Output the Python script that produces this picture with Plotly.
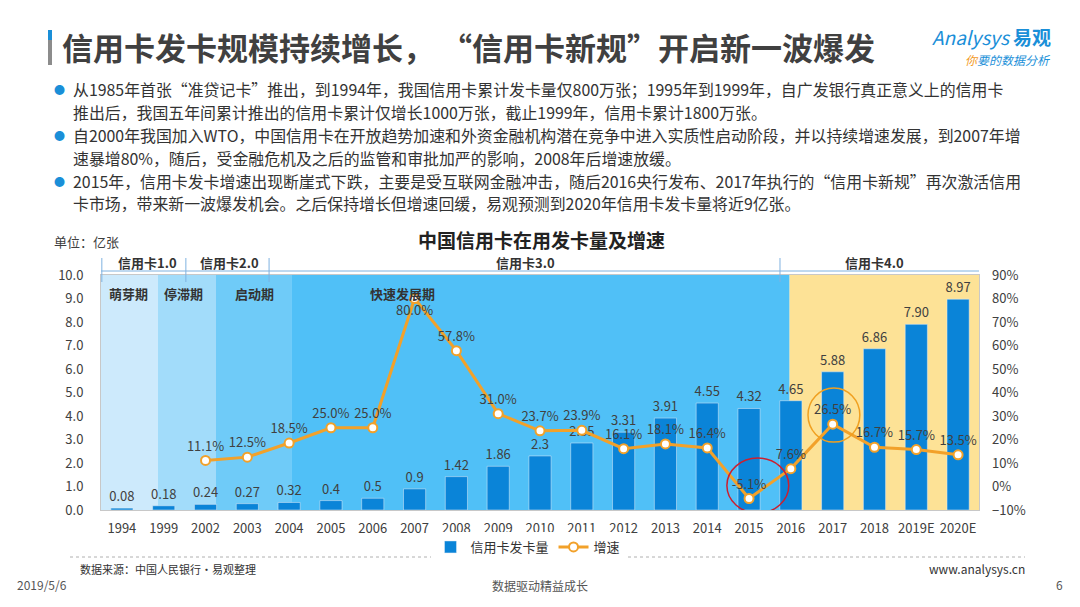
import plotly.graph_objects as go

# ---- data ----
years = ["1994", "1999", "2002", "2003", "2004", "2005", "2006", "2007", "2008", "2009",
         "2010", "2011", "2012", "2013", "2014", "2015", "2016", "2017", "2018", "2019E", "2020E"]
cards = [0.08, 0.18, 0.24, 0.27, 0.32, 0.4, 0.5, 0.9, 1.42, 1.86,
         2.3, 2.85, 3.31, 3.91, 4.55, 4.32, 4.65, 5.88, 6.86, 7.90, 8.97]
card_labels = ["0.08", "0.18", "0.24", "0.27", "0.32", "0.4", "0.5", "0.9", "1.42", "1.86",
               "2.3", "2.85", "3.31", "3.91", "4.55", "4.32", "4.65", "5.88", "6.86", "7.90", "8.97"]
growth = [None, None, 11.1, 12.5, 18.5, 25.0, 25.0, 80.0, 57.8, 31.0,
          23.7, 23.9, 16.1, 18.1, 16.4, -5.1, 7.6, 26.5, 16.7, 15.7, 13.5]

bullets = [
    ["从1985年首张“准贷记卡”推出，到1994年，我国信用卡累计发卡量仅800万张；1995年到1999年，自广发银行真正意义上的信用卡",
     "推出后，我国五年间累计推出的信用卡累计仅增长1000万张，截止1999年，信用卡累计1800万张。"],
    ["自2000年我国加入WTO，中国信用卡在开放趋势加速和外资金融机构潜在竞争中进入实质性启动阶段，并以持续增速发展，到2007年增",
     "速暴增80%，随后，受金融危机及之后的监管和审批加严的影响，2008年后增速放缓。"],
    ["2015年，信用卡发卡增速出现断崖式下跌，主要是受互联网金融冲击，随后2016央行发布、2017年执行的“信用卡新规”再次激活信用",
     "卡市场，带来新一波爆发机会。之后保持增长但增速回缓，易观预测到2020年信用卡发卡量将近9亿张。"],
]

FONT = "Noto Sans CJK SC"
TXT = "#404040"

# the page body has an 8px margin, so the figure is drawn 8px smaller
OFF = 8
# plot area in page pixels: x 101..979, y 275..510
L, R, T, B = 101, 979, 275, 510
def px(x):
    return (x - L) / (R - L)
def py(y):
    return (B - y) / (B - T)

fig = go.Figure()

fig.add_trace(go.Bar(
    x=years, y=cards, name="信用卡发卡量",
    marker=dict(color="#0a84d8"), width=0.53,
    text=card_labels, textposition="outside", constraintext="none",
    textfont=dict(size=13, color=TXT), cliponaxis=False,
))

text_pos = ["top center"] * len(years)
text_pos[years.index("2007")] = "bottom center"
fig.add_trace(go.Scatter(
    x=years, y=growth, name="增速", yaxis="y2", mode="lines+markers+text",
    line=dict(color="#f2a12a", width=3),
    marker=dict(size=9, color="white", line=dict(color="#f2a12a", width=2)),
    text=[None if g is None else f"{g:.1f}%" for g in growth],
    textposition=text_pos, textfont=dict(size=13, color=TXT), cliponaxis=False,
))

shapes = []
# background stages
for x0, x1, col in [(-0.5, 0.86, "#cdeafc"), (0.86, 2.25, "#a2dcfa"),
                    (2.25, 4.05, "#6fcbf8"), (4.05, 15.97, "#50c0f7"),
                    (15.97, 20.5, "#fde296")]:
    shapes.append(dict(type="rect", xref="x", yref="paper", x0=x0, x1=x1, y0=0, y1=1,
                       fillcolor=col, line=dict(width=0), layer="below"))
# top bracket
shapes.append(dict(type="line", xref="paper", yref="paper", x0=0, x1=1,
                   y0=py(271), y1=py(271), line=dict(color="#7fb2e0", width=1)))
for xi in [-0.48, 1.53, 3.52, 15.74]:
    shapes.append(dict(type="line", xref="x", yref="paper", x0=xi, x1=xi,
                       y0=py(258), y1=py(282), line=dict(color="#7fb2e0", width=1)))
# highlight circles
shapes.append(dict(type="circle", xref="x", yref="y", x0=14.47, x1=15.95, y0=-0.13, y1=2.21,
                   line=dict(color="#cc1f2f", width=1.5)))
shapes.append(dict(type="circle", xref="x", yref="y", x0=16.41, x1=17.65, y0=2.89, y1=5.19,
                   line=dict(color="#f0a020", width=1.5)))
# dotted separator
shapes.append(dict(type="line", xref="paper", yref="paper", x0=px(70), x1=px(1025),
                   y0=py(557), y1=py(557), line=dict(color="#b0b0b0", width=1, dash="dot")))
# header bar
shapes.append(dict(type="rect", xref="paper", yref="paper", x0=px(48), x1=px(52),
                   y0=py(40), y1=py(30), fillcolor="#1a8fd8", line=dict(width=0)))
shapes.append(dict(type="rect", xref="paper", yref="paper", x0=px(48), x1=px(52),
                   y0=py(65), y1=py(40), fillcolor="#8c8c8c", line=dict(width=0)))

ann = []
def note(x, y, text, size=13, color=TXT, xanchor="center", bold=False, **kw):
    if bold:
        text = f"<b>{text}</b>"
    ann.append(dict(xref="paper", yref="paper", x=px(x), y=py(y), text=text, showarrow=False,
                    xanchor=xanchor, yanchor="middle", font=dict(size=size, color=color, family=FONT), **kw))

note(60, 47, "信用卡发卡规模持续增长， “信用卡新规”开启新一波爆发", size=31, color="#404040",
     xanchor="left", bold=True)
note(1053, 36, "<i>Analysys</i> <b>易观</b>", size=19, color="#1a8fd8", xanchor="right")
note(1053, 60, "<i><span style='color:#f39a1e'>你</span>要的数据分析</i>", size=12, color="#1a8fd8",
     xanchor="right")

row = 89
for para in bullets:
    ann.append(dict(xref="paper", yref="paper", x=px(59), y=py(row), text="●", showarrow=False,
                    xanchor="center", yanchor="middle", font=dict(size=11, color="#1a8fd8", family=FONT)))
    for line in para:
        note(71, row, line, size=15.9, color="#333333", xanchor="left")
        row += 23

note(541, 240, "中国信用卡在用发卡量及增速", size=19, color="#222222", bold=True)
note(52, 242, "单位：亿张", size=13, xanchor="left")

for x, y, t in [(147, 262, "信用卡1.0"), (229, 262, "信用卡2.0"), (525, 262, "信用卡3.0"),
                (874, 262, "信用卡4.0"), (128, 293, "萌芽期"), (183, 293, "停滞期"),
                (254, 293, "启动期"), (402, 293, "快速发展期")]:
    note(x, y, t, size=13, color="#333333", bold=True)

note(78, 569, "数据来源：中国人民银行•易观整理", size=11, color="#333333", xanchor="left")
note(1027, 568, "www.analysys.cn", size=12, color="#333333", xanchor="right")
note(15, 584, "2019/5/6", size=12, color="#555555", xanchor="left")
note(540, 585, "数据驱动精益成长", size=12, color="#555555")
note(1065, 584, "6", size=12, color="#555555", xanchor="right")

fig.update_layout(
    width=1080 - OFF, height=607 - OFF,
    margin=dict(l=L - OFF, r=1080 - R, t=T - OFF, b=607 - B),
    paper_bgcolor="white", plot_bgcolor="white",
    font=dict(family=FONT, size=13, color=TXT),
    showlegend=True,
    legend=dict(orientation="h", x=px(528), xanchor="center", y=py(547), yanchor="middle",
                font=dict(size=13, color="#333333"), itemwidth=30, traceorder="normal"),
    bargap=0.47,
    xaxis=dict(type="category", range=[-0.5, 20.5], showgrid=False, showline=True, mirror=True,
               linecolor="#c8c8c8", ticks="", ticklabelstandoff=6, tickfont=dict(size=13, color=TXT)),
    yaxis=dict(range=[0, 10], dtick=1, tickformat=".1f", showgrid=False, showline=True, mirror=True,
               linecolor="#c8c8c8", ticks="", ticklabelstandoff=14, tickfont=dict(size=13, color=TXT),
               zeroline=False),
    yaxis2=dict(range=[-10, 90], dtick=10, ticksuffix="%", overlaying="y", side="right",
                showgrid=False, zeroline=False, ticks="", ticklabelstandoff=12,
                tickfont=dict(size=13, color=TXT)),
    shapes=shapes, annotations=ann,
)

fig.write_html("out.html")
